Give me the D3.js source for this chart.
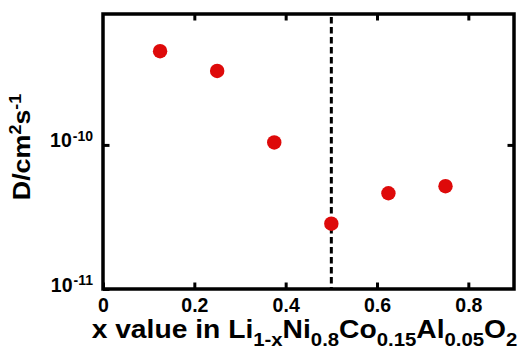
<!DOCTYPE html>
<html>
<head>
<meta charset="utf-8">
<script src="https://cdn.jsdelivr.net/npm/d3@7"></script>
<style>
  body { margin: 0; background: #fff; }
  text { font-family: "Liberation Sans", Arial, sans-serif; font-weight: bold; fill: #000; }
</style>
</head>
<body>
<div id="chart"></div>
<script>
// data
const xValues = [0.125, 0.25, 0.375, 0.5, 0.625, 0.75];
const dValues = [4.47e-10, 3.26e-10, 1.04e-10, 2.84e-11, 4.62e-11, 5.17e-11];
const xTicks = [0, 0.2, 0.4, 0.6, 0.8];
const xTickLabels = ["0", "0.2", "0.4", "0.6", "0.8"];
const yTicks = [1e-11, 1e-10];
const yTickExponents = ["-11", "-10"];
const dividerX = 0.5;

const width = 522;
const height = 354;
const margin = { left: 103, right: 8, top: 14, bottom: 65 };

const svg = d3.select("#chart")
              .append("svg")
              .attr("width", width)
              .attr("height", height);

const x = d3.scaleLinear()
            .domain([0, 0.9])
            .range([margin.left, width - margin.right]);

const y = d3.scaleLog()
            .domain([1e-11, 8.1e-10])
            .range([height - margin.bottom, margin.top]);

const x0 = x.range()[0], x1 = x.range()[1];
const y0 = y.range()[0], y1 = y.range()[1];

// dashed divider
svg.append("line")
   .attr("x1", x(dividerX))
   .attr("x2", x(dividerX))
   .attr("y1", y1)
   .attr("y2", y0)
   .attr("stroke", "#000")
   .attr("stroke-width", 3)
   .attr("stroke-dasharray", "6.5,3.5")
   .attr("stroke-dashoffset", -3);

// points
svg.selectAll("circle.pt")
   .data(xValues)
   .enter()
   .append("circle")
   .attr("class", "pt")
   .attr("cx", d => x(d))
   .attr("cy", (d, i) => y(dValues[i]))
   .attr("r", 7.2)
   .attr("fill", "#de0a0a");

// bottom axis
const bottom = svg.append("g")
   .attr("transform", `translate(0,${y0})`)
   .call(d3.axisBottom(x)
           .tickValues(xTicks)
           .tickSize(-6.5)
           .tickFormat((d, i) => xTickLabels[i]));
bottom.selectAll("text")
      .attr("y", 23)
      .attr("dy", 0)
      .style("font-size", "19.5px");

// top axis ticks
svg.append("g")
   .attr("transform", `translate(0,${y1})`)
   .call(d3.axisTop(x).tickValues(xTicks.slice(1)).tickSize(-6.5).tickFormat(""));

// left axis
const left = svg.append("g")
   .attr("transform", `translate(${x0},0)`)
   .call(d3.axisLeft(y).tickValues(yTicks).tickSize(-6.5).tickFormat(""));

left.selectAll(".tick")
    .append("text")
    .attr("x", -10)
    .attr("y", 2)
    .attr("text-anchor", "end")
    .style("font-size", "19.5px")
    .each(function(d, i) {
      const t = d3.select(this);
      t.append("tspan").text("10");
      t.append("tspan")
       .attr("dx", 1)
       .attr("dy", -6.5)
       .style("font-size", "14px")
       .text(yTickExponents[i]);
    });

// right axis ticks
svg.append("g")
   .attr("transform", `translate(${x1},0)`)
   .call(d3.axisRight(y).tickValues(yTicks.slice(1)).tickSize(-6.5).tickFormat(""));

svg.selectAll(".domain").remove();
svg.selectAll(".tick line")
   .attr("stroke", "#000")
   .attr("stroke-width", 3);

// frame
svg.append("rect")
   .attr("x", x0)
   .attr("y", y1)
   .attr("width", x1 - x0)
   .attr("height", y0 - y1)
   .attr("fill", "none")
   .attr("stroke", "#000")
   .attr("stroke-width", 3.5);

// x title (reference lettering is wide, so stretch horizontally)
const xt = svg.append("text")
   .attr("transform", "translate(304.5,338) scale(1.13,1)")
   .attr("text-anchor", "middle")
   .style("font-size", "25px");
const parts = [["x value in Li", 0], ["1-x", 1], ["Ni", 0], ["0.8", 1], ["Co", 0], ["0.15", 1], ["Al", 0], ["0.05", 1], ["O", 0], ["2", 1]];
let prevSub = 0;
parts.forEach(([s, sub]) => {
  const dy = sub - prevSub;
  xt.append("tspan")
    .attr("dy", dy === 1 ? 8 : dy === -1 ? -8 : 0)
    .style("font-size", sub ? "18px" : "25px")
    .text(s);
  prevSub = sub;
});

// y title
const yt = svg.append("text")
   .attr("transform", "translate(30,147) rotate(-90) scale(1.12,1)")
   .attr("text-anchor", "middle")
   .style("font-size", "24px");
yt.append("tspan").text("D/cm");
yt.append("tspan").attr("dy", -9).style("font-size", "16px").text("2");
yt.append("tspan").attr("dy", 9).text("s");
yt.append("tspan").attr("dy", -9).style("font-size", "16px").text("-1");
</script>
</body>
</html>
